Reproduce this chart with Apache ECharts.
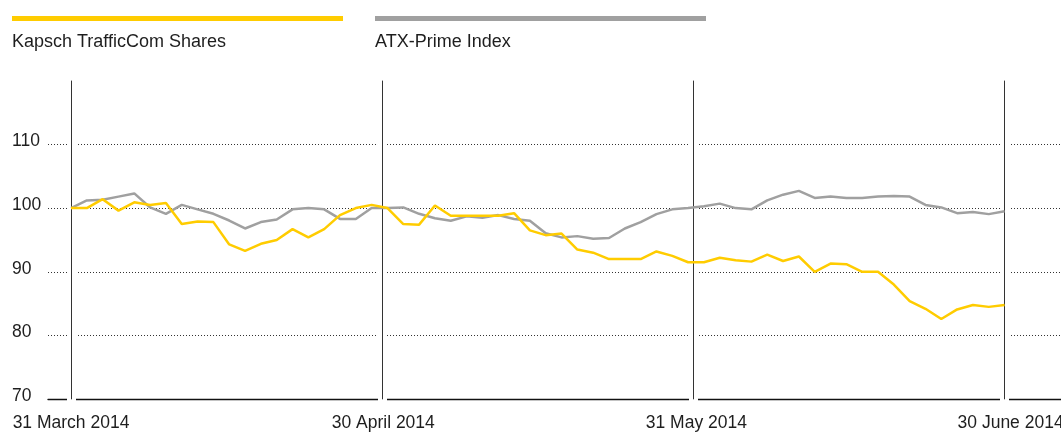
<!DOCTYPE html>
<html>
<head>
<meta charset="utf-8">
<script src="https://cdn.jsdelivr.net/npm/echarts@6/dist/echarts.min.js"></script>
<style>
html,body{margin:0;padding:0;background:#fff;}
#chart{width:1061px;height:432px;}
</style>
</head>
<body>
<div id="chart"></div>
<script>
const seriesNames = ['Kapsch TrafficCom Shares', 'ATX-Prime Index'];
const tickLabels = ['31 March 2014', '30 April 2014', '31 May 2014', '30 June 2014'];
const kapsch = [100.0, 100.0, 101.4, 99.6, 100.9, 100.5, 100.8, 97.5, 97.9, 97.8,
  94.3, 93.3, 94.4, 95.0, 96.7, 95.4, 96.7, 98.9, 100.0, 100.5,
  100.0, 97.5, 97.4, 100.4, 98.8, 98.8, 98.8, 98.8, 99.2, 96.5,
  95.75, 96.0, 93.5, 93.0, 92.0, 92.0, 92.0, 93.2, 92.5, 91.5,
  91.5, 92.2, 91.8, 91.6, 92.7, 91.7, 92.4, 90.0, 91.3, 91.2,
  90.0, 90.0, 88.0, 85.4, 84.2, 82.6, 84.1, 84.8, 84.5, 84.8];
const atxPrime = [100.0, 101.2, 101.3, 101.8, 102.3, 100.1, 99.1, 100.5, 99.8, 99.1,
  98.05, 96.8, 97.8, 98.2, 99.8, 100.0, 99.8, 98.3, 98.3, 100.0,
  100.0, 100.1, 99.1, 98.4, 98.0, 98.7, 98.5, 98.9, 98.3, 98.0,
  96.05, 95.4, 95.6, 95.2, 95.3, 96.8, 97.8, 99.05, 99.8, 100.0,
  100.3, 100.7, 100.0, 99.8, 101.2, 102.1, 102.7, 101.6, 101.8, 101.6,
  101.6, 101.8, 101.9, 101.8, 100.5, 100.1, 99.2, 99.4, 99.05, 99.5];

const n = kapsch.length;
const last = n - 1;
const tickPos = tickLabels.map((_, i) => i * last / (tickLabels.length - 1));
const labelShift = [0, 1, 3, 6];
const FONT = "'Liberation Sans', Arial, Helvetica, sans-serif";
const YELLOW = '#ffcc00';
const GREY = '#a0a0a0';
const TEXT = '#1e1e1e';

// plot geometry (pixels): grid spans 48..1061; first point at 71, last at 1004.6
const gridLeft = 48, gridRight = 0, firstPx = 71, lastPx = 1004.6, width = 1061;
const pxPer = (lastPx - firstPx) / last;
const xMin = -(firstPx - gridLeft) / pxPer;
const xMax = last + (width - gridRight - lastPx) / pxPer;

const chart = echarts.init(document.getElementById('chart'));
chart.setOption({
  animation: false,
  grid: { left: gridLeft, right: gridRight, top: 80.6, bottom: 32.7 },
  xAxis: {
    type: 'value', min: xMin, max: xMax,
    axisLine: { show: true, onZero: false, lineStyle: { color: '#111', width: 1.4 } },
    axisTick: { show: false }, axisLabel: { show: false }, splitLine: { show: false }
  },
  yAxis: {
    type: 'value', min: 70, max: 120, interval: 10,
    axisLine: { show: false }, axisTick: { show: false },
    splitLine: { show: true, showMinLine: false, showMaxLine: false,
      lineStyle: { type: [1, 2], color: '#333', width: 1 } },
    axisLabel: { align: 'left', margin: 36, color: TEXT, fontSize: 17.5, fontFamily: FONT,
      verticalAlign: 'bottom', lineHeight: 6,
      formatter: v => (v === 120 ? '' : String(v)) }
  },
  graphic: [
    { type: 'rect', left: 12, top: 16, shape: { width: 331, height: 5 }, style: { fill: YELLOW } },
    { type: 'rect', left: 375, top: 16, shape: { width: 331, height: 5 }, style: { fill: GREY } },
    { type: 'text', x: 12, y: 42.5, style: { text: seriesNames[0], fill: TEXT, font: '18px ' + FONT, verticalAlign: 'middle' } },
    { type: 'text', x: 375, y: 42.5, style: { text: seriesNames[1], fill: TEXT, font: '18px ' + FONT, verticalAlign: 'middle' } }
  ],
  series: [
    { type: 'line', name: 'bands', data: [], z: 1, silent: true,
      markLine: { z: 1, symbol: 'none', silent: true, animation: false, label: { show: false },
        lineStyle: { color: '#fff', width: 9, type: 'solid', cap: 'square' },
        emphasis: { disabled: true },
        data: tickPos.map(x => ({ xAxis: x })) } },
    { type: 'line', name: 'rules', data: [], z: 1, silent: true,
      markLine: { z: 1, symbol: 'none', silent: true, animation: false,
        label: { show: true, position: 'start', distance: 15, formatter: '{b}', color: TEXT, fontSize: 17.5, fontFamily: FONT },
        lineStyle: { color: '#333', width: 1, type: 'solid' },
        emphasis: { disabled: true },
        data: tickPos.map((x, i) => ({ xAxis: x, name: tickLabels[i], label: { offset: [labelShift[i], 0] } })) } },
    { type: 'line', name: seriesNames[1], z: 2, showSymbol: false, symbol: 'none',
      data: atxPrime.map((v, i) => [i, v]),
      lineStyle: { color: GREY, width: 2.5 } },
    { type: 'line', name: seriesNames[0], z: 3, showSymbol: false, symbol: 'none',
      data: kapsch.map((v, i) => [i, v]),
      lineStyle: { color: YELLOW, width: 2.5 } }
  ]
});
</script>
</body>
</html>
